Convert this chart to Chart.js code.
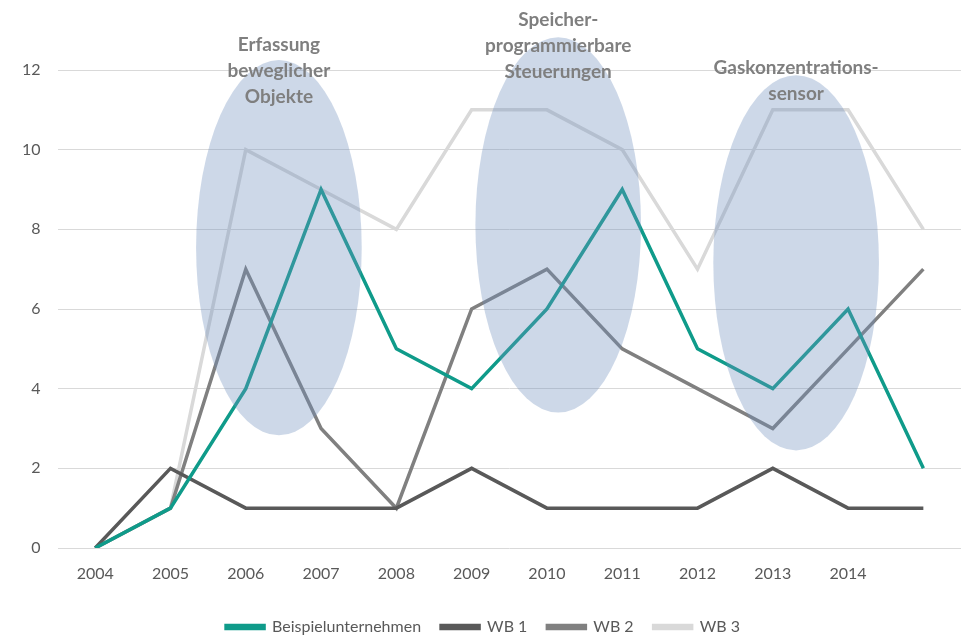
<!DOCTYPE html>
<html>
<head>
<meta charset="utf-8">
<script src="https://cdn.jsdelivr.net/npm/chart.js@4/dist/chart.umd.min.js"></script>
<style>
  html, body { margin: 0; padding: 0; background: #fff; }
  #wrap { width: 961px; height: 635px; }
</style>
</head>
<body>
<div id="wrap"><canvas id="myChart"></canvas></div>
<script>
var years = ['2004', '2005', '2006', '2007', '2008', '2009', '2010', '2011', '2012', '2013', '2014', ''];
var beispiel = [0, 1, 4, 9, 5, 4, 6, 9, 5, 4, 6, 2];
var wb1 = [0, 2, 1, 1, 1, 2, 1, 1, 1, 2, 1, 1];
var wb2 = [0, 1, 7, 3, 1, 6, 7, 5, 4, 3, 5, 7];
var wb3 = [0, 1, 10, 9, 8, 11, 11, 10, 7, 11, 11, 8];
var yTicks = [0, 2, 4, 6, 8, 10, 12];

// highlighted periods: centre (category index, value), half width (categories), half height (values)
var ellipses = [
    { x: 2.44, y: 7.54, rx: 1.1, ry: 4.71, text: ['Erfassung', 'beweglicher', 'Objekte'], ty: 12.63 },
    { x: 6.15, y: 8.11, rx: 1.1, ry: 4.71, text: ['Speicher-', 'programmierbare', 'Steuerungen'], ty: 13.27 },
    { x: 9.31, y: 7.16, rx: 1.1, ry: 4.71, text: ['Gaskonzentrations-', 'sensor'], ty: 12.05 }
];

var ellipsePlugin = {
    id: 'ellipses',
    afterDatasetsDraw: function (chart) {
        var c = chart.ctx;
        var xs = chart.scales.x, ys = chart.scales.y;
        var step = xs.getPixelForValue(1) - xs.getPixelForValue(0);
        var unit = ys.getPixelForValue(0) - ys.getPixelForValue(1);
        c.save();
        ellipses.forEach(function (e) {
            var cx = xs.getPixelForValue(0) + e.x * step;
            var cy = ys.getPixelForValue(e.y);
            c.beginPath();
            c.ellipse(cx, cy, e.rx * step, e.ry * unit, 0, 0, Math.PI * 2);
            c.fillStyle = 'rgba(112, 144, 190, 0.35)';
            c.fill();
        });
        c.fillStyle = '#7f7f7f';
        c.font = 'bold 19px Lato, "Open Sans", sans-serif';
        c.textAlign = 'center';
        c.textBaseline = 'middle';
        ellipses.forEach(function (e) {
            var cx = xs.getPixelForValue(0) + e.x * step;
            var ty = ys.getPixelForValue(e.ty);
            e.text.forEach(function (t, i) {
                c.fillText(t, cx, ty + i * 26);
            });
        });
        c.restore();
    }
};

var ctx = document.getElementById('myChart').getContext('2d');
var myChart = new Chart(ctx, {
    type: 'line',
    data: {
        labels: years,
        datasets: [
            { label: 'Beispielunternehmen', data: beispiel, borderColor: '#0f9b8a', backgroundColor: '#0f9b8a' },
            { label: 'WB 1', data: wb1, borderColor: '#595959', backgroundColor: '#595959' },
            { label: 'WB 2', data: wb2, borderColor: '#808080', backgroundColor: '#808080' },
            { label: 'WB 3', data: wb3, borderColor: '#d9d9d9', backgroundColor: '#d9d9d9' }
        ]
    },
    options: {
        responsive: true,
        maintainAspectRatio: false,
        animation: false,
        elements: {
            line: { borderWidth: 3.5, tension: 0, borderJoinStyle: 'miter' },
            point: { radius: 0, hoverRadius: 0 }
        },
        layout: { padding: { top: 70, left: 5, right: 0, bottom: 0 } },
        scales: {
            x: {
                offset: true,
                grid: { display: false, drawTicks: false },
                border: { display: false },
                ticks: { color: '#595959', font: { size: 16, family: 'Lato, "Open Sans", sans-serif' }, padding: 16, maxRotation: 0, autoSkip: false },
                afterFit: function (scale) { scale.height = 51; }
            },
            y: {
                min: 0,
                max: 12,
                afterBuildTicks: function (axis) {
                    axis.ticks = yTicks.map(function (v) { return { value: v }; });
                },
                grid: { color: '#d9d9d9', lineWidth: 1, drawTicks: false },
                border: { display: false },
                ticks: { color: '#595959', font: { size: 16, family: 'Lato, "Open Sans", sans-serif' }, padding: 17 }
            }
        },
        plugins: {
            tooltip: { enabled: false },
            legend: {
                position: 'bottom',
                maxHeight: 36,
                labels: {
                    boxWidth: 38,
                    boxHeight: 3,
                    padding: 20,
                    color: '#595959',
                    font: { size: 16, family: 'Lato, "Open Sans", sans-serif' }
                }
            }
        }
    },
    plugins: [ellipsePlugin]
});
</script>
</body>
</html>
